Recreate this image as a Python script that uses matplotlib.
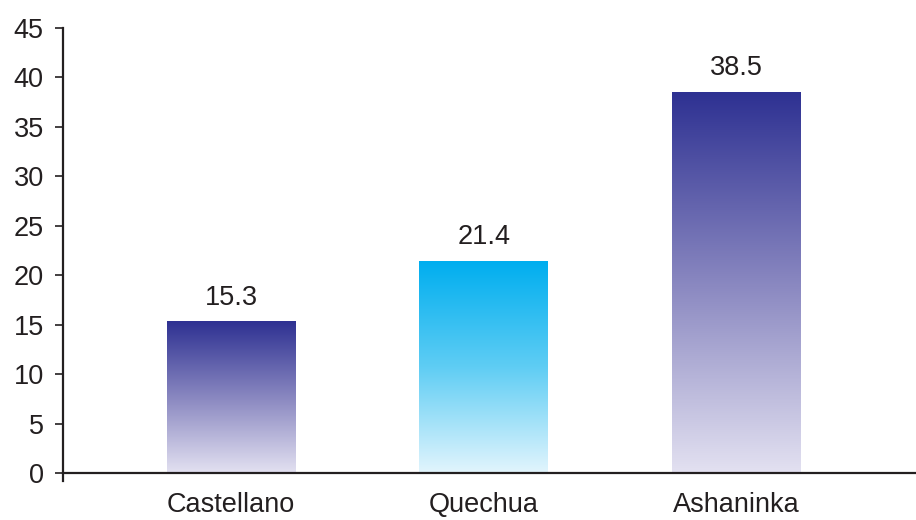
import matplotlib.pyplot as plt
import numpy as np
from matplotlib.colors import LinearSegmentedColormap

plt.rcParams['font.family'] = ['Liberation Sans', 'DejaVu Sans']

categories = ["Castellano", "Quechua", "Ashaninka"]
values = [15.3, 21.4, 38.5]
yticks = [0, 5, 10, 15, 20, 25, 30, 35, 40, 45]

# top -> bottom gradient colours per bar
navy = LinearSegmentedColormap.from_list("navy", ["#e3e1f1", "#8987c0", "#2e3192"])
cyan = LinearSegmentedColormap.from_list("cyan", ["#e2f5fd", "#5fcdf4", "#00aeef"])
cmaps = [navy, cyan, navy]

fs = 19.5

fig = plt.figure(figsize=(9.16, 5.2), dpi=100)
ax = fig.add_axes([0.069, 0.0752, 0.931, 0.871])

x = np.arange(len(categories))
bars = ax.bar(x, values, width=0.51, color="none", zorder=2)

grad = np.linspace(0, 1, 256).reshape(-1, 1)
for bar, cm in zip(bars, cmaps):
    x0, y0 = bar.get_x(), bar.get_y()
    w, h = bar.get_width(), bar.get_height()
    ax.imshow(grad, cmap=cm, origin="lower", aspect="auto",
              extent=[x0, x0 + w, y0, y0 + h], zorder=1)

for xi, v in zip(x, values):
    ax.annotate(f"{v}", (xi, v), xytext=(0, 8), textcoords="offset points",
                ha="center", va="bottom", fontsize=fs, color="#231f20")

ax.set_xlim(-0.665, 2.71)
ax.set_ylim(-0.8, 45)
ax.set_yticks(yticks)
ax.set_xticks(x)
ax.set_xticklabels(categories)

for s in ["top", "right"]:
    ax.spines[s].set_visible(False)
ax.spines["bottom"].set_position(("data", 0))
ax.spines["left"].set_bounds(-0.8, 45)
for s in ["left", "bottom"]:
    ax.spines[s].set_color("#231f20")
    ax.spines[s].set_linewidth(1.6)

ax.tick_params(axis="y", direction="out", length=6, width=1.2, colors="#231f20",
               labelsize=fs, pad=8)
ax.tick_params(axis="x", length=0, labelsize=fs, colors="#231f20", pad=14)

fig.savefig("out.png", dpi=100)
